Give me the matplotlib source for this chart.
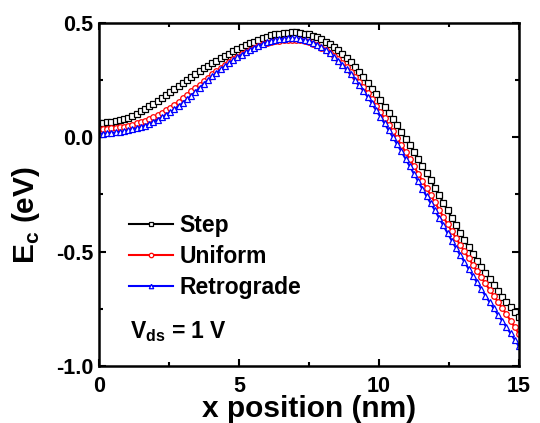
import numpy as np
import matplotlib
matplotlib.use("Agg")
import matplotlib.pyplot as plt
from matplotlib.ticker import MultipleLocator, FormatStrFormatter

plt.rcParams["font.family"] = ["Liberation Sans", "DejaVu Sans"]
plt.rcParams["font.weight"] = "bold"

# position grid of the simulation (nm)
x_nm = np.linspace(0, 15, 101)

step = [
    0.062, 0.063, 0.065, 0.067, 0.070, 0.074, 0.079, 0.086, 0.094, 0.103,
    0.113, 0.124, 0.135, 0.147, 0.159, 0.171, 0.183, 0.196, 0.209, 0.222,
    0.235, 0.249, 0.262, 0.276, 0.289, 0.301, 0.313, 0.324, 0.335, 0.345,
    0.355, 0.365, 0.375, 0.384, 0.393, 0.402, 0.410, 0.418, 0.426, 0.433,
    0.440, 0.445, 0.450, 0.453, 0.456, 0.457, 0.458, 0.458, 0.456, 0.453,
    0.450, 0.444, 0.437, 0.428, 0.418, 0.406, 0.394, 0.380, 0.364, 0.348,
    0.330, 0.309, 0.286, 0.262, 0.237, 0.212, 0.187, 0.161, 0.134, 0.107,
    0.080, 0.052, 0.023, -0.006, -0.035, -0.065, -0.095, -0.125, -0.156, -0.188,
    -0.220, -0.253, -0.286, -0.319, -0.352, -0.385, -0.418, -0.451, -0.482, -0.512,
    -0.540, -0.568, -0.595, -0.622, -0.648, -0.673, -0.697, -0.721, -0.743, -0.764, -0.785,
]

uniform = [
    0.035, 0.036, 0.037, 0.039, 0.041, 0.043, 0.046, 0.051, 0.055, 0.060,
    0.065, 0.071, 0.078, 0.087, 0.097, 0.107, 0.118, 0.129, 0.142, 0.156,
    0.170, 0.185, 0.200, 0.215, 0.230, 0.245, 0.260, 0.275, 0.288, 0.302,
    0.315, 0.328, 0.340, 0.352, 0.363, 0.373, 0.382, 0.391, 0.399, 0.406,
    0.410, 0.415, 0.419, 0.422, 0.424, 0.425, 0.425, 0.425, 0.423, 0.420,
    0.415, 0.409, 0.401, 0.392, 0.382, 0.369, 0.355, 0.340, 0.323, 0.305,
    0.285, 0.264, 0.242, 0.218, 0.193, 0.166, 0.138, 0.110, 0.082, 0.054,
    0.025, -0.005, -0.035, -0.065, -0.096, -0.127, -0.159, -0.191, -0.222, -0.254,
    -0.285, -0.317, -0.348, -0.380, -0.411, -0.441, -0.470, -0.499, -0.528, -0.557,
    -0.585, -0.612, -0.639, -0.666, -0.693, -0.720, -0.747, -0.774, -0.802, -0.831, -0.860,
]

retrograde = [
    0.015, 0.016, 0.017, 0.019, 0.021, 0.023, 0.026, 0.031, 0.035, 0.040,
    0.045, 0.051, 0.058, 0.067, 0.077, 0.087, 0.098, 0.109, 0.122, 0.136,
    0.150, 0.166, 0.182, 0.199, 0.216, 0.233, 0.250, 0.266, 0.281, 0.296,
    0.310, 0.324, 0.337, 0.349, 0.361, 0.372, 0.382, 0.392, 0.400, 0.408,
    0.415, 0.420, 0.425, 0.428, 0.431, 0.432, 0.432, 0.432, 0.430, 0.426,
    0.420, 0.413, 0.404, 0.393, 0.381, 0.367, 0.352, 0.335, 0.316, 0.296,
    0.275, 0.252, 0.228, 0.203, 0.176, 0.148, 0.119, 0.090, 0.060, 0.030,
    0.000, -0.031, -0.062, -0.094, -0.127, -0.160, -0.193, -0.226, -0.258, -0.289,
    -0.320, -0.353, -0.386, -0.419, -0.452, -0.484, -0.515, -0.545, -0.575, -0.605,
    -0.635, -0.664, -0.693, -0.721, -0.749, -0.776, -0.803, -0.830, -0.858, -0.886, -0.915,
]

fig = plt.figure(figsize=(5.4, 4.23), dpi=100)
ax = fig.add_axes([0.183, 0.135, 0.778, 0.811])

mk = dict(markersize=4, markerfacecolor="white", markeredgewidth=0.9, lw=1.5)
ax.plot(x_nm, step, color="black", marker="s", label="Step", **mk)
ax.plot(x_nm, uniform, color="red", marker="o", label="Uniform", **mk)
ax.plot(x_nm, retrograde, color="blue", marker="^", label="Retrograde", **mk)

ax.set_xlim(0, 15)
ax.set_ylim(-1.0, 0.5)
ax.xaxis.set_major_locator(MultipleLocator(5))
ax.xaxis.set_minor_locator(MultipleLocator(2.5))
ax.yaxis.set_major_locator(MultipleLocator(0.5))
ax.yaxis.set_minor_locator(MultipleLocator(0.25))
ax.yaxis.set_major_formatter(FormatStrFormatter("%.1f"))

ax.tick_params(which="both", direction="in", top=True, right=True, width=1.5,
               labelsize=15.5)
ax.tick_params(which="major", length=5, pad=4)
ax.tick_params(axis="x", which="major", pad=7)
ax.tick_params(which="minor", length=3)
for sp in ax.spines.values():
    sp.set_linewidth(1.8)

ax.set_xlabel("x position (nm)", fontsize=21.5, fontweight="bold", labelpad=-1)
ax.set_ylabel(r"E$_\mathregular{c}$ (eV)", fontsize=21.5, fontweight="bold")
ax.yaxis.set_label_coords(-0.135, 0.44)

leg = ax.legend(loc="upper left", bbox_to_anchor=(0.05, 0.47), frameon=False,
                fontsize=16.5, handlelength=1.9, handletextpad=0.3,
                labelspacing=0.35, markerscale=0.8, borderaxespad=0)
for h in leg.legend_handles:
    h.set_markevery([1])
ax.text(0.075, 0.08, r"V$_\mathregular{ds}$ = 1 V", transform=ax.transAxes,
        fontsize=16.5, fontweight="bold")

fig.savefig("out.png", dpi=100)
